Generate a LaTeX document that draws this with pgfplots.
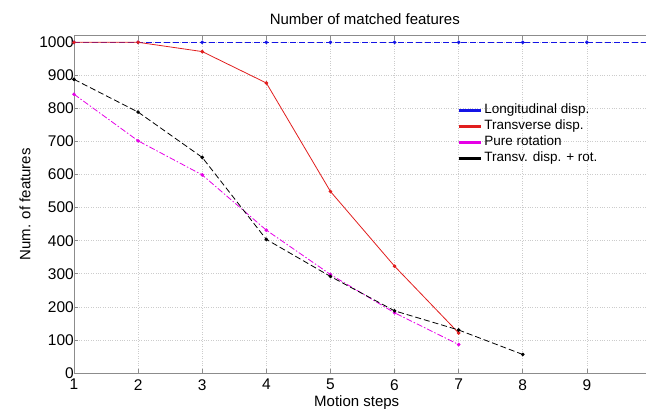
\documentclass[border=0pt]{standalone}
\usepackage{pgfplots}
\pgfplotsset{compat=1.18}
\usepackage{fontspec}
\setmainfont{Liberation Sans}
\definecolor{lblue}{RGB}{20,20,230}
\definecolor{lred}{RGB}{225,30,30}
\definecolor{lmag}{RGB}{230,0,230}
\definecolor{frame}{RGB}{140,140,140}

\begin{document}
\begin{tikzpicture}
\useasboundingbox (-74pt,-36pt) rectangle (572pt,373pt);
\begin{axis}[
    at={(0pt,0pt)}, anchor=south west,
    scale only axis, width=577pt, height=337.3pt,
    xmin=1, xmax=10, ymin=0, ymax=1020,
    xtick={1,...,9}, ytick={0,100,...,1000},
    /pgf/number format/assume math mode=true,
    /pgf/number format/1000 sep={},
    tick label style={font=\fontsize{15.5}{18}\selectfont},
    yticklabel style={inner sep=1pt, xshift=1pt},
    xticklabel style={inner sep=1pt, yshift=-5pt},
    grid=major,
    grid style={dotted, line width=0.6pt, black!20},
    axis line style={frame, line width=0.9pt},
    tick style={frame, line width=0.6pt},
    tick align=inside, major tick length=4pt,
    title={Number of matched features},
    title style={font=\fontsize{15}{18}\selectfont, at={(axis description cs:0.504,1)}, anchor=center, yshift=11pt},
    xlabel={Motion steps},
    xlabel style={font=\fontsize{15}{18}\selectfont, at={(axis description cs:0.49,0)}, anchor=center, yshift=-29.5pt},
    ylabel={Num. of features},
    ylabel style={font=\fontsize{15}{18}\selectfont, at={(axis description cs:-0.085,0.5)}, anchor=center},
    legend cell align=left,
    legend image code/.code={\draw[line width=2.8pt, solid] (0pt,0pt) -- (22pt,0pt);},
    legend style={at={(axis description cs:0.66,0.809)}, anchor=north west, draw=none, fill=none,
                  font=\fontsize{13.5}{16}\selectfont,
                  nodes={text height=10pt, text depth=3pt, inner sep=1.5pt}, row sep=0pt},
    clip=false,
]
  % longitudinal displacement
  \addplot[lblue, line width=0.8pt, dash pattern=on 6pt off 3pt, mark=*, mark size=1.4pt, mark options={solid}] coordinates {
    (1,1000) (2,1000) (3,1000) (4,1000) (5,1000) (6,1000) (7,1000) (8,1000) (9,1000) (10,1000)};
  % transverse displacement
  \addplot[lred, line width=0.8pt, mark=*, mark size=1.4pt] coordinates {
    (1,1000) (2,1000) (3,972) (4,877) (5,549) (6,323) (7,121)};
  % pure rotation
  \addplot[lmag, line width=0.8pt, dash pattern=on 6pt off 2pt on 1.5pt off 2pt, mark=*, mark size=1.4pt, mark options={solid}] coordinates {
    (1,843) (2,702) (3,599) (4,432) (5,298) (6,182) (7,86)};
  % transverse displacement + rotation
  \addplot[black, line width=0.8pt, dash pattern=on 6pt off 3pt, mark=*, mark size=1.4pt, mark options={solid}] coordinates {
    (1,888) (2,789) (3,652) (4,404) (5,292) (6,188) (7,130) (8,56)};
  \legend{Longitudinal disp., Transverse disp., Pure rotation, Transv. disp. + rot.}
\end{axis}
\end{tikzpicture}
\end{document}
